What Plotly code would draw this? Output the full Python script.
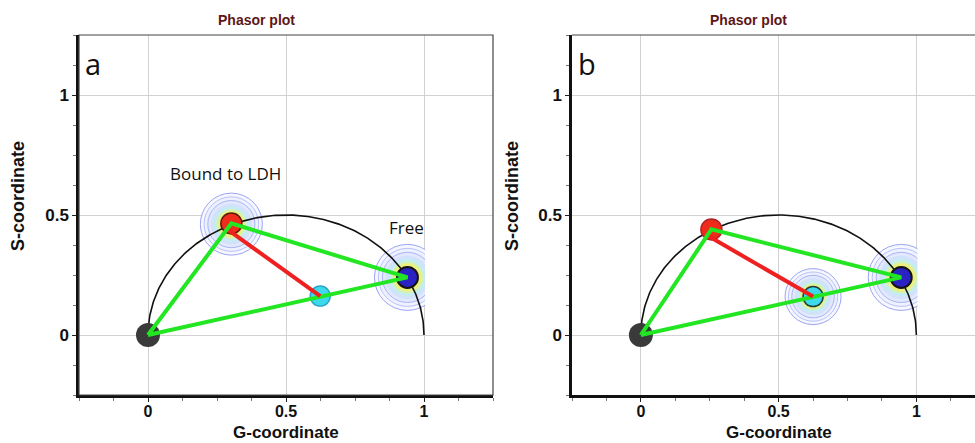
import numpy as np
import plotly.graph_objects as go

# ---------------- data ----------------
panel_labels = ["a", "b"]
origin_g = [0.0, 0.0]
origin_s = [0.0, 0.0]
bound_g = [0.302, 0.256]
bound_s = [0.465, 0.440]
free_g = [0.940, 0.945]
free_s = [0.240, 0.240]
mix_g = [0.624, 0.625]
mix_s = [0.162, 0.160]

# density clouds: centre and panel (0 = a, 1 = b)
cloud_g = [0.302, 0.940, 0.625, 0.945]
cloud_s = [0.462, 0.240, 0.160, 0.240]
cloud_panel = [0, 0, 1, 1]
cloud_size = [62, 66, 56, 66]

tick_vals = [0, 0.5, 1]
tick_text = ["0", "0.5", "1"]
x_title = "G-coordinate"
y_title = "S-coordinate"
plot_title = "Phasor plot"
bound_label = "Bound to LDH"
free_label = "Free"

# universal semicircle (centre 0.5, radius 0.5)
theta = np.linspace(0, np.pi, 241)
semi_g = 0.5 + 0.5 * np.cos(theta)
semi_s = 0.5 * np.sin(theta)

W, H = 975, 443
fig = go.Figure()

axes = [("x", "y"), ("x2", "y2")]

# cloud ring styles: (fraction of size, fill, line colour, line width)
rings = [
    (1.00, "#f7f8ff", "#8e9af3", 0.9),
    (0.88, "#eef1ff", "#aab4f6", 0.8),
    (0.76, "#e3e9fd", "#9aa5f4", 0.8),
    (0.66, "#d3e2fa", "#d3e2fa", 0),
    (0.57, "#c4ecf4", "#c4ecf4", 0),
    (0.49, "#d6f1b4", "#d6f1b4", 0),
    (0.42, "#eef07a", "#eef07a", 0),
]

for gc, sc, p, sz in zip(cloud_g, cloud_s, cloud_panel, cloud_size):
    xa, ya = axes[p]
    for frac, fill, lc, lw in rings:
        fig.add_trace(go.Scatter(
            x=[gc], y=[sc], xaxis=xa, yaxis=ya, mode="markers",
            marker=dict(size=sz * frac, color=fill, line=dict(color=lc, width=lw)),
            hoverinfo="skip", showlegend=False))

for p in range(2):
    xa, ya = axes[p]
    # semicircle
    fig.add_trace(go.Scatter(x=semi_g, y=semi_s, xaxis=xa, yaxis=ya, mode="lines",
                             line=dict(color="#111111", width=1.6),
                             hoverinfo="skip", showlegend=False))
    # origin dot
    fig.add_trace(go.Scatter(x=[origin_g[p]], y=[origin_s[p]], xaxis=xa, yaxis=ya,
                             mode="markers", marker=dict(size=24, color="#3a3a3a"),
                             showlegend=False))
    # bound (red)
    fig.add_trace(go.Scatter(x=[bound_g[p]], y=[bound_s[p]], xaxis=xa, yaxis=ya,
                             mode="markers",
                             marker=dict(size=21, color="#ef2c1c",
                                         line=dict(color="#5a1a10" if p == 0 else "#b02424", width=1.5)),
                             showlegend=False))
    # free (blue)
    fig.add_trace(go.Scatter(x=[free_g[p]], y=[free_s[p]], xaxis=xa, yaxis=ya,
                             mode="markers",
                             marker=dict(size=21, color="#2b22c4",
                                         line=dict(color="#151515", width=2)),
                             showlegend=False))
    # mixture (cyan)
    fig.add_trace(go.Scatter(x=[mix_g[p]], y=[mix_s[p]], xaxis=xa, yaxis=ya,
                             mode="markers",
                             marker=dict(size=20, color="#3fd9ee",
                                         line=dict(color="#2aa6c8" if p == 0 else "#1f3f3f", width=1.5)),
                             showlegend=False))
    # green triangle
    fig.add_trace(go.Scatter(x=[origin_g[p], bound_g[p], free_g[p], origin_g[p]],
                             y=[origin_s[p], bound_s[p], free_s[p], origin_s[p]],
                             xaxis=xa, yaxis=ya, mode="lines",
                             line=dict(color="#22e622", width=4),
                             hoverinfo="skip", showlegend=False))
    # red line bound -> mixture
    fig.add_trace(go.Scatter(x=[bound_g[p] - 0.008, mix_g[p]], y=[bound_s[p] - 0.03, mix_s[p]],
                             xaxis=xa, yaxis=ya, mode="lines",
                             line=dict(color="#ee2020", width=4),
                             hoverinfo="skip", showlegend=False))

# geometry
ydom = [1 - 395 / H, 1 - 35 / H]
xdom_a = [79 / W, 493 / W]
xdom_b = [572 / W, 1.0]
xr_a = [-0.25, 1.25]
xr_b = [-0.25, -0.25 + (975 - 572) / 275.5]
yr = [-0.25, 1.25]

FONT = "Liberation Sans, Arial, sans-serif"

def common(rng, anchor, size):
    return dict(range=rng, anchor=anchor, tickvals=tick_vals, ticktext=tick_text,
                ticks="outside", ticklen=4, tickcolor="#222", showline=True, linewidth=2.5,
                linecolor="#111", showgrid=True, gridcolor="#d2d2d2", gridwidth=1, zeroline=False,
                tickfont=dict(family=FONT, size=size, color="#111111", weight="bold"),
                fixedrange=True,
                minor=dict(tick0=0, dtick=0.125, ticks="outside", ticklen=3, tickcolor="#777",
                           showgrid=False))

def xax(dom, rng, anchor):
    d = common(rng, anchor, 16)
    d["domain"] = dom
    d["ticklabelstandoff"] = -4
    return d

def yax(rng, anchor):
    d = common(rng, anchor, 17)
    d["domain"] = ydom
    return d

shapes = [
    dict(type="rect", xref="x domain", yref="y domain", x0=0, x1=1, y0=0, y1=1,
         line=dict(color="#444", width=1.2), layer="above"),
    dict(type="line", xref="x2 domain", yref="y2 domain", x0=0, x1=1, y0=1, y1=1,
         line=dict(color="#444", width=1.2), layer="above"),
]
# clip the free-state clouds at the G = 1 boundary
for p, (xa, ya) in enumerate(axes):
    shapes.append(dict(type="rect", xref=xa, yref=ya, x0=1.004, x1=1.13, y0=0.05, y1=0.43,
                       fillcolor="white", line=dict(width=0), layer="above"))

lab_font = dict(family=FONT, size=18, color="#111111", weight="bold")
annotations = []
title_x = [256, 748]
xtitle_x = [286, 779]
ytitle_x = [18, 512]
letter_x = [83, 576]
for p in range(2):
    annotations += [
        dict(text=plot_title, xref="paper", yref="paper", x=title_x[p] / W,
             y=1 - 20 / H, showarrow=False, xanchor="center", yanchor="middle",
             font=dict(family=FONT, size=14, color="#5e1616", weight="bold")),
        dict(text=x_title, xref="paper", yref="paper", x=xtitle_x[p] / W,
             y=0, showarrow=False, xanchor="center", yanchor="bottom", borderpad=0,
             font=dict(family=FONT, size=17, color="#111111", weight="bold")),
        dict(text=y_title, xref="paper", yref="paper", x=ytitle_x[p] / W,
             y=1 - 196 / H, showarrow=False, xanchor="center", yanchor="middle", textangle=-90,
             font=lab_font),
        dict(text=panel_labels[p], xref="paper", yref="paper", x=letter_x[p] / W,
             y=1 - 64 / H, showarrow=False, xanchor="left", yanchor="middle",
             font=dict(family="Open Sans, sans-serif", size=29, color="#111")),
    ]
annotations.append(dict(text=bound_label, xref="x", yref="y", x=(225.5 - 79) / 276 - 0.25,
                        y=(395 - 173) / 240 - 0.25, showarrow=False,
                        font=dict(family="Open Sans, sans-serif", size=17, color="#111")))
annotations.append(dict(text=free_label, xref="x", yref="y", x=(406 - 79) / 276 - 0.25,
                        y=(395 - 227) / 240 - 0.25, showarrow=False,
                        font=dict(family="Open Sans, sans-serif", size=17, color="#111")))

fig.update_layout(
    width=W, height=H, margin=dict(l=0, r=0, t=0, b=0, autoexpand=False),
    paper_bgcolor="white", plot_bgcolor="white", showlegend=False,
    xaxis=xax(xdom_a, xr_a, "y"), yaxis=yax(yr, "x"),
    xaxis2=xax(xdom_b, xr_b, "y2"), yaxis2=yax(yr, "x2"),
    shapes=shapes, annotations=annotations,
)

fig.write_html("out.html", config={"displayModeBar": False},
               post_script="document.body.style.margin='0';")
